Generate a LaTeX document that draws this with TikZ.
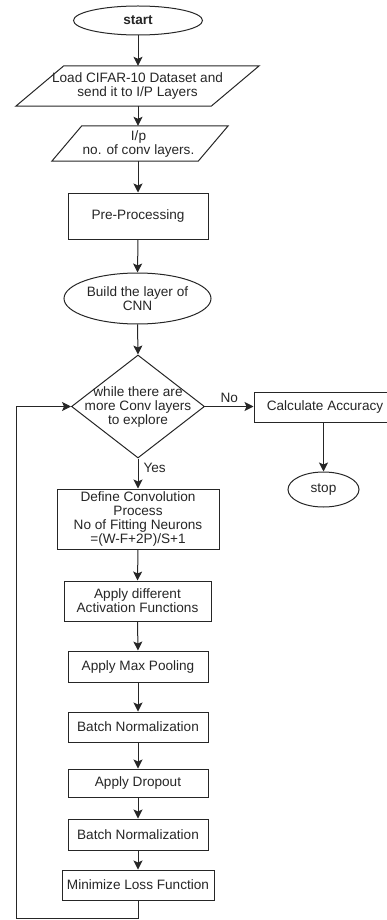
\documentclass[tikz,border=0pt]{standalone}
\usepackage{fontspec}
\setmainfont{Liberation Sans}
\usetikzlibrary{shapes.geometric,arrows.meta}
\begin{document}
\begin{tikzpicture}[x=1pt,y=-1pt,
  every node/.style={text=black!85,font=\fontsize{13.6}{14}\selectfont,align=center,inner sep=0pt},
  ln/.style={draw=black!85,line width=1pt},
  arr/.style={ln,-{Stealth[length=9pt,width=9pt,inset=2pt]}},
  boxnode/.style={draw=black!85,line width=1pt,rectangle,minimum height=#1},
  ell/.style={draw=black!85,line width=1pt,ellipse},
  para/.style={rectangle}
]
\useasboundingbox (0,0) rectangle (387,920);

% nodes
\node[ell,minimum width=129pt,minimum height=29pt] (start) at (138,20.5) {\textbf{start}};
\node[para,minimum width=195pt,minimum height=40pt] (load) at (137.5,86) {Load CIFAR-10 Dataset and\\send it to I/P Layers};
\node[para,minimum width=146pt,minimum height=35pt] (inp) at (140,143.5) {};
\node at (138.5,143.5) {I/p\\ no. of conv layers.};
\node[boxnode=46pt,minimum width=140pt] (pre) at (138,216) {Pre-Processing};
\node[ell,minimum width=147pt,minimum height=51pt] (build) at (137.5,298.5) {Build the layer of\\CNN};
\node[diamond,draw=black!85,line width=1pt,minimum width=133pt,minimum height=103pt] (dia) at (138,406.5) {};
\node at (138,407) {while there are\\more Conv layers\\to explore};
\node[boxnode=30pt,minimum width=150pt] (calc) at (329,407) {};
\node at (325,407) {Calculate Accuracy};
\node[ell,minimum width=71pt,minimum height=35pt] (stop) at (323.5,489.5) {stop};
\node[boxnode=60pt,minimum width=162pt] (def) at (138,519) {Define Convolution\\Process\\No of Fitting Neurons\\=(W-F+2P)/S+1};
\node[boxnode=40pt,minimum width=147pt] (act) at (137.5,601) {Apply different\\Activation Functions};
\node[boxnode=31pt,minimum width=140pt] (pool) at (138,666.5) {Apply Max Pooling};
\node[boxnode=30pt,minimum width=140pt] (bn1) at (138,727) {Batch Normalization};
\node[boxnode=28pt,minimum width=140pt] (drop) at (138,783) {Apply Dropout};
\node[boxnode=31pt,minimum width=140pt] (bn2) at (138,834.5) {Batch Normalization};
\node[boxnode=30pt,minimum width=152pt] (loss) at (138,885) {Minimize Loss Function};

% parallelogram outlines
\draw[ln] ([xshift=24pt]load.north west) -- ([xshift=24pt]load.north east) -- ([xshift=-24pt]load.south east) -- ([xshift=-24pt]load.south west) -- cycle;
\draw[ln] ([xshift=15pt]inp.north west) -- ([xshift=15pt]inp.north east) -- ([xshift=-15pt]inp.south east) -- ([xshift=-15pt]inp.south west) -- cycle;

% connectors
\draw[arr] (start.south) -- (start.south |- load.north);
\draw[arr] (start.south |- load.south) -- (start.south |- inp.north);
\draw[arr] (start.south |- inp.south) -- (pre.north);
\draw[arr] (pre.south) -- (build.north);
\draw[arr] (build.south) -- (dia.north);
\draw[arr] (dia.east) -- (calc.west |- dia.east) node[midway,above=3pt] (no) {No};
\draw[arr] (calc.south -| stop.north) -- (stop.north);
\draw[arr] (dia.south) -- (def.north) node[pos=0.3,right=5pt] (yes) {Yes};
\draw[arr] (def.south) -- (act.north);
\draw[arr] (act.south) -- (pool.north);
\draw[arr] (pool.south) -- (bn1.north);
\draw[arr] (bn1.south) -- (drop.north);
\draw[arr] (drop.south) -- (bn2.north);
\draw[arr] (bn2.south) -- (loss.north);
\coordinate (lb) at (138,918.5);
\coordinate (ll) at (16,918.5);
\draw[arr] (loss.south) -- (lb) -- (ll) -- (ll |- dia.west) -- (dia.west);
\end{tikzpicture}
\end{document}
